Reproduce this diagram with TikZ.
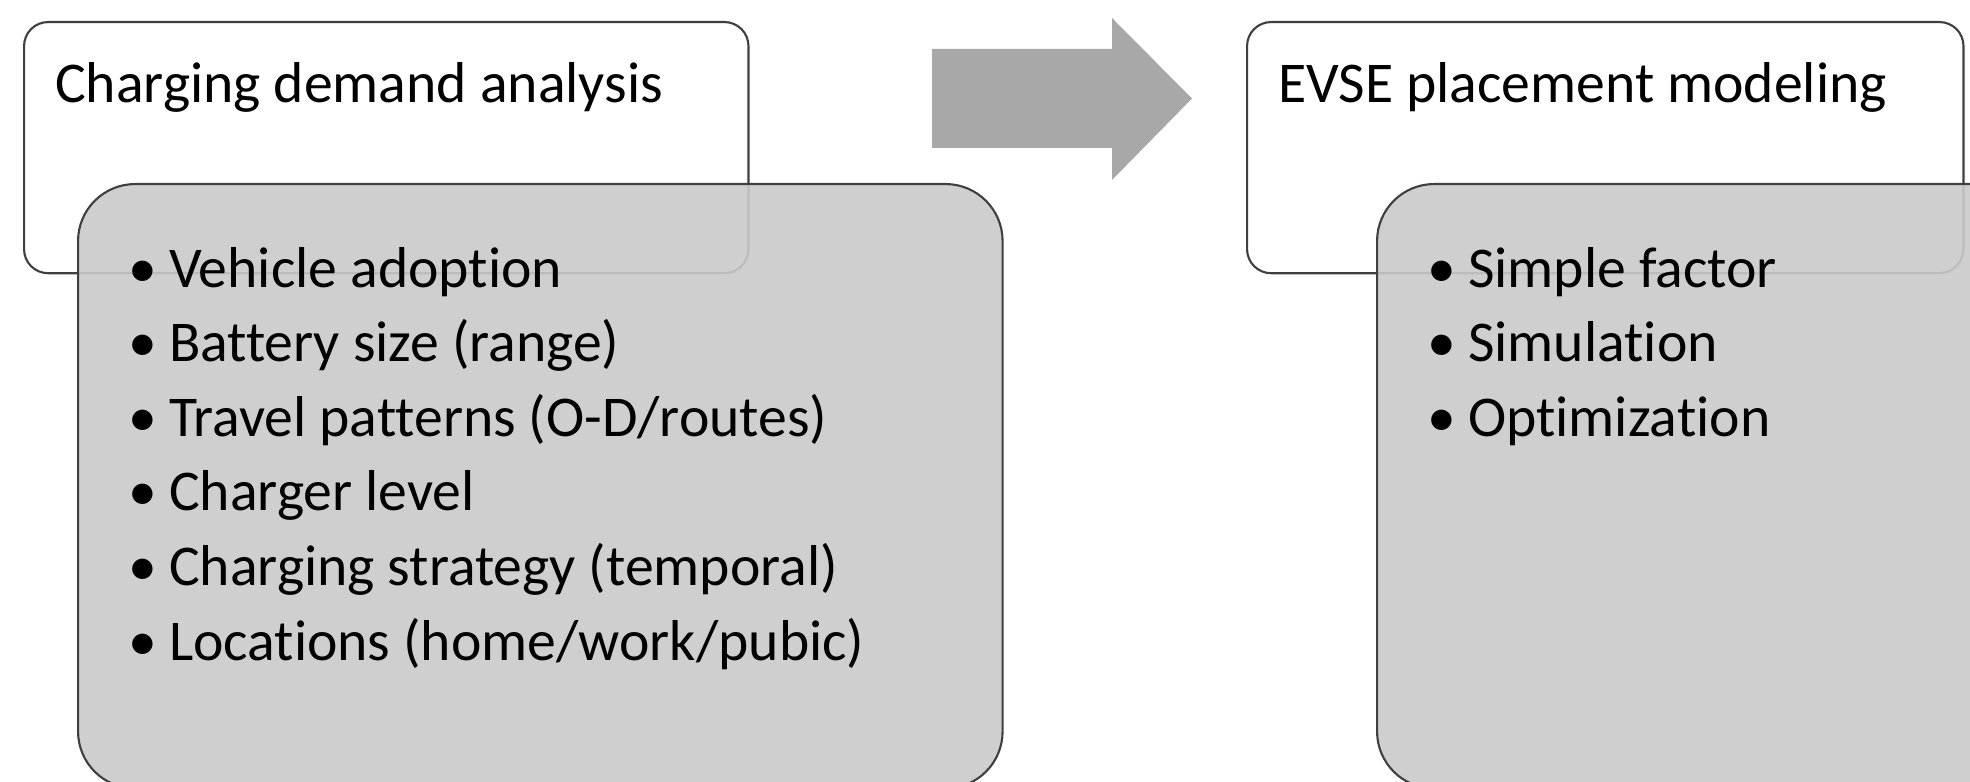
\documentclass[tikz,border=0pt]{standalone}
\usepackage{fontspec}
\setmainfont{Carlito}[Ligatures=NoCommon]

\definecolor{boxline}{HTML}{3F3F3F}
\definecolor{listgray}{HTML}{CACACA}
\definecolor{arrowgray}{HTML}{A8A8A8}

\begin{document}
\begin{tikzpicture}[x=0.01cm, y=-0.01cm, line width=0.6pt,
		every node/.style={font=\fontsize{16.4}{20}\selectfont},
		titlebox/.style={draw=boxline, fill=white, rounded corners=0.24cm,
			anchor=north west, minimum height=2.51cm, inner sep=0},
		listbox/.style={draw=boxline, fill=listgray, fill opacity=0.9,
			rounded corners=0.57cm, anchor=north west,
			minimum width=9.24cm, minimum height=6.04cm, inner sep=0},
		itemline/.style={anchor=base west, inner sep=0}]
		\useasboundingbox (0,0) rectangle (1970,782);

		% Draw the title boxes
		\node[titlebox, minimum width=7.24cm] (demandbox) at (23,21) {};
		\node[titlebox, minimum width=7.16cm] (placebox) at (1246,21) {};

		\node[itemline] (demandtitle) at (54,103) {Charging demand analysis};
		\node[itemline] (placetitle) at (1277,103) {EVSE placement modeling};

		% Draw the list boxes on top
		\node[listbox] (demandlist) at (77,183) {};
		\node[listbox] (placelist) at (1376,183) {};

		% Draw the items of the first list
		\node[itemline] (d1) at (127,287) {\makebox[0.41cm][l]{\textbullet}Vehicle adoption};
		\node[itemline] (d2) at (127,361) {\makebox[0.41cm][l]{\textbullet}Battery size (range)};
		\node[itemline] (d3) at (127,436) {\makebox[0.41cm][l]{\textbullet}Travel patterns (O-D/routes)};
		\node[itemline] (d4) at (127,510) {\makebox[0.41cm][l]{\textbullet}Charger level};
		\node[itemline] (d5) at (127,585) {\makebox[0.41cm][l]{\textbullet}Charging strategy (temporal)};
		\node[itemline] (d6) at (127,660) {\makebox[0.41cm][l]{\textbullet}Locations (home/work/pubic)};

		% Draw the items of the second list
		\node[itemline] (p1) at (1426,287) {\makebox[0.41cm][l]{\textbullet}Simple factor};
		\node[itemline] (p2) at (1426,361) {\makebox[0.41cm][l]{\textbullet}Simulation};
		\node[itemline] (p3) at (1426,436) {\makebox[0.41cm][l]{\textbullet}Optimization};

		% Draw the block arrow between the two stages
		\fill[arrowgray] (932,49) -- (1112,49) -- (1112,18) -- (1192,98.5)
			-- (1112,180) -- (1112,148) -- (932,148) -- cycle;

	\end{tikzpicture}
\end{document}
